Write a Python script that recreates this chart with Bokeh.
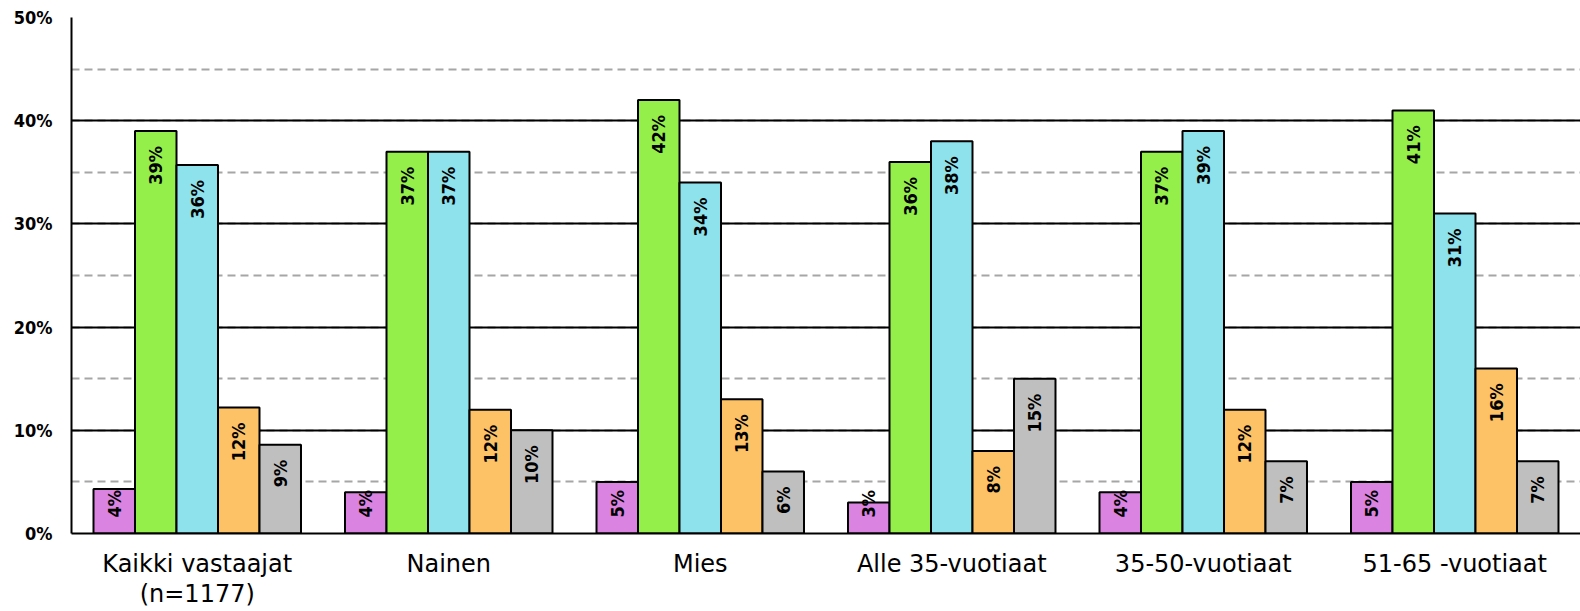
from bokeh.plotting import figure
from bokeh.models import ColumnDataSource, FactorRange, Range1d, SingleIntervalTicker, NumeralTickFormatter
from bokeh.transform import dodge
from bokeh.core.properties import value
from bokeh.embed import file_html
from bokeh.resources import INLINE
import math

categories = ["Kaikki vastaajat\n(n=1177)", "Nainen", "Mies", "Alle 35-vuotiaat", "35-50-vuotiaat", "51-65 -vuotiaat"]
s1 = [4.3, 4.0, 5.0, 3.0, 4.0, 5.0]
s2 = [39.0, 37.0, 42.0, 36.0, 37.0, 41.0]
s3 = [35.7, 37.0, 34.0, 38.0, 39.0, 31.0]
s4 = [12.2, 12.0, 13.0, 8.0, 12.0, 16.0]
s5 = [8.6, 10.0, 6.0, 15.0, 7.0, 7.0]
labels1 = ["4%", "4%", "5%", "3%", "4%", "5%"]
labels2 = ["39%", "37%", "42%", "36%", "37%", "41%"]
labels3 = ["36%", "37%", "34%", "38%", "39%", "31%"]
labels4 = ["12%", "12%", "13%", "8%", "12%", "16%"]
labels5 = ["9%", "10%", "6%", "15%", "7%", "7%"]
colors = ["#DA83E0", "#94EF4A", "#8DE2EB", "#FDC266", "#BFBFBF"]

series = [s1, s2, s3, s4, s5]
labels = [labels1, labels2, labels3, labels4, labels5]

BOLD_FONT = "DejaVu Sans Condensed"
CAT_FONT = "DejaVu Sans"
W, H = 1580, 611
B_LEFT, B_TOP, B_BOTTOM = 71, 17, 78
inner_h = 516
Y_MAX = 50
px_per_unit = inner_h / Y_MAX

p = figure(width=W, height=H, x_range=FactorRange(*categories, range_padding=0),
           y_range=Range1d(0, Y_MAX), output_backend="svg", toolbar_location=None,
           min_border_left=B_LEFT, min_border_right=0, min_border_top=B_TOP, min_border_bottom=B_BOTTOM)
p.outline_line_color = None
p.background_fill_color = "white"
p.border_fill_color = "white"

FONT_PX = 18
TOP_PAD = 15
BOTTOM_PAD = 16
bw = 0.165
offsets = [-2 * bw, -bw, 0, bw, 2 * bw]

for vals, labs, col, off in zip(series, labels, colors, offsets):
    src = ColumnDataSource(dict(cat=categories, val=vals, lab=labs))
    p.vbar(x=dodge("cat", off, range=p.x_range), top="val", width=bw, source=src,
           fill_color=col, line_color="black", line_width=2)
    # Excel-like "inside end" labels, pushed up from the base when the bar is short
    top_c, top_v, top_l, bot_c, bot_v, bot_l = [], [], [], [], [], []
    for c, v, l in zip(categories, vals, labs):
        text_len = len(l) * 0.72 * FONT_PX
        if v * px_per_unit - TOP_PAD - text_len >= BOTTOM_PAD:
            top_c.append(c); top_v.append(v); top_l.append(l)
        else:
            bot_c.append(c); bot_v.append(0); bot_l.append(l)
    src_top = ColumnDataSource(dict(cat=top_c, val=top_v, lab=top_l))
    src_bot = ColumnDataSource(dict(cat=bot_c, val=bot_v, lab=bot_l))
    common = dict(angle=math.pi / 2, text_baseline="middle",
                  text_font=value(BOLD_FONT), text_font_style="bold",
                  text_font_size=f"{FONT_PX}px", text_color="black")
    p.text(x=dodge("cat", off, range=p.x_range), y="val", text="lab", source=src_top,
           text_align="right", y_offset=TOP_PAD, **common)
    p.text(x=dodge("cat", off, range=p.x_range), y="val", text="lab", source=src_bot,
           text_align="left", y_offset=-BOTTOM_PAD, **common)

# y axis
p.yaxis.ticker = SingleIntervalTicker(interval=10, num_minor_ticks=2)
p.yaxis.formatter = NumeralTickFormatter(format="0")
p.yaxis.major_label_overrides = {0: "0%", 10: "10%", 20: "20%", 30: "30%", 40: "40%", 50: "50%"}
p.yaxis.major_tick_line_color = None
p.yaxis.minor_tick_line_color = None
p.yaxis.axis_line_color = "black"
p.yaxis.axis_line_width = 2
p.yaxis.major_label_text_font = BOLD_FONT
p.yaxis.major_label_text_font_style = "bold"
p.yaxis.major_label_text_font_size = "18px"
p.yaxis.major_label_text_color = "black"
p.yaxis.major_label_standoff = 13

p.ygrid.ticker = SingleIntervalTicker(interval=10, num_minor_ticks=2)
p.ygrid.grid_line_color = "black"
p.ygrid.grid_line_width = 2
p.ygrid.minor_grid_line_color = "#A6A6A6"
p.ygrid.minor_grid_line_width = 2
p.ygrid.minor_grid_line_dash = "8 5"
p.xgrid.grid_line_color = None

# x axis
p.xaxis.major_tick_line_color = None
p.xaxis.minor_tick_line_color = None
p.xaxis.axis_line_color = "black"
p.xaxis.axis_line_width = 2
p.xaxis.major_label_text_font = CAT_FONT
p.xaxis.major_label_text_font_size = "24px"
p.xaxis.major_label_text_color = "black"
p.xaxis.major_label_text_line_height = 1.1
p.xaxis.major_label_standoff = 10

open("out.html", "w").write(file_html(p, INLINE))
